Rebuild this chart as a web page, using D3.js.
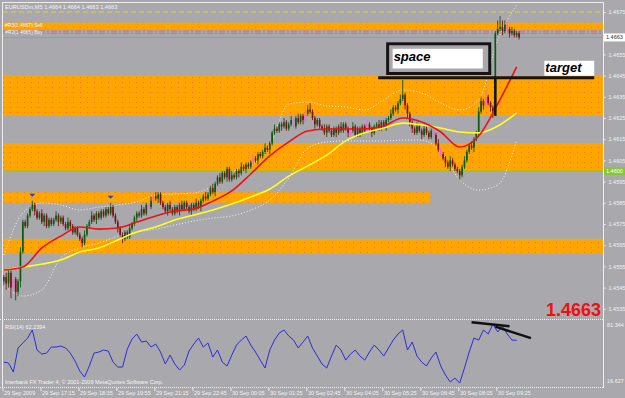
<!DOCTYPE html>
<html>
<head>
<meta charset="utf-8">
<script src="https://cdn.jsdelivr.net/npm/d3@7"></script>
<style>
  html, body { margin: 0; padding: 0; background: #a9a9ad; }
  svg { display: block; font-family: "Liberation Sans", Arial, sans-serif; }
</style>
</head>
<body>
<div class="visHolder"></div>
<script>
var width = 625,
    height = 398;

// EURUSD M5 closes, pips above 1.4500, one per bar
var firstOpen = 48;
var closes = [
  50, 47, 52, 45, 49, 43, 48, 62, 76, 74, 79, 82, 84, 81, 78, 80, 76, 79, 74, 77,
  75, 77, 79, 76, 78, 75, 73, 76, 74, 71, 73, 70, 68, 66, 70, 74, 76, 79, 77, 80,
  78, 81, 79, 82, 80, 83, 79, 76, 73, 70, 68, 71, 69, 73, 75, 78, 80, 79, 82, 80,
  84, 83, 86, 88, 87, 89, 85, 83, 81, 84, 82, 80, 83, 81, 84, 82, 85, 83, 81, 84,
  82, 85, 83, 86, 88, 87, 89, 92, 90, 94, 97, 95, 99, 97, 101, 96, 98, 97, 100, 99,
  102, 101, 103, 102, 104, 106, 105, 108, 107, 109, 111, 110, 113, 118, 120, 119, 122, 121, 123, 120,
  122, 124, 121, 125, 123, 126, 124, 127, 129, 128, 125, 122, 124, 121, 120, 118, 121, 119, 117, 120,
  118, 121, 119, 122, 120, 118, 119, 121, 117, 120, 118, 121, 119, 122, 120, 118, 121, 122, 120, 123,
  121, 124, 125, 127, 130, 129, 132, 134, 136, 131, 127, 123, 120, 118, 121, 119, 117, 120, 118, 116,
  119, 117, 113, 110, 108, 106, 104, 102, 105, 103, 101, 100, 98, 102, 105, 109, 112, 111, 115, 118,
  128, 133, 131, 135, 132, 130, 128, 165, 167, 168, 166, 169, 167, 165, 166, 164, 165, 163
];
// wick length above / below the body, pips
var wickUp = [
  1, 2, 1, 1, 2, 1, 1, 2, 1, 1, 1, 1, 2, 1, 1, 1, 2, 1, 1, 1,
  1, 1, 2, 1, 1, 1, 1, 2, 1, 1, 1, 1, 1, 1, 2, 1, 1, 2, 1, 1,
  1, 1, 1, 1, 1, 2, 1, 1, 1, 1, 1, 1, 1, 2, 1, 1, 1, 1, 2, 1,
  1, 1, 2, 2, 2, 1, 1, 1, 1, 1, 2, 1, 1, 1, 1, 2, 1, 1, 1, 1,
  1, 2, 1, 1, 1, 2, 1, 1, 2, 1, 1, 2, 1, 1, 1, 1, 2, 1, 1, 1,
  2, 1, 1, 1, 1, 2, 1, 1, 1, 1, 2, 1, 1, 1, 2, 1, 1, 1, 2, 1,
  1, 2, 1, 1, 2, 1, 1, 2, 2, 3, 1, 1, 1, 1, 1, 2, 1, 1, 1, 1,
  1, 1, 2, 1, 1, 1, 1, 2, 1, 1, 1, 1, 1, 2, 1, 1, 1, 1, 2, 1,
  1, 1, 1, 2, 1, 1, 1, 2, 7, 1, 1, 1, 1, 1, 2, 1, 1, 2, 1, 1,
  1, 1, 1, 2, 1, 1, 1, 1, 2, 1, 1, 1, 1, 1, 2, 1, 1, 2, 1, 1,
  2, 2, 1, 3, 1, 1, 1, 1, 4, 5, 3, 2, 2, 1, 2, 1, 1, 1
];
var wickDn = [
  2, 3, 2, 5, 1, 4, 2, 3, 1, 1, 1, 1, 1, 2, 1, 1, 1, 2, 1, 1,
  1, 1, 1, 2, 1, 1, 1, 1, 2, 1, 1, 1, 1, 2, 1, 1, 1, 1, 1, 2,
  1, 1, 1, 1, 1, 1, 1, 1, 2, 1, 2, 1, 1, 1, 1, 1, 2, 1, 1, 1,
  1, 1, 1, 1, 1, 2, 1, 1, 1, 2, 1, 1, 1, 1, 2, 1, 1, 1, 1, 2,
  1, 1, 1, 2, 1, 1, 1, 1, 1, 2, 1, 1, 1, 1, 2, 1, 1, 1, 1, 2,
  1, 1, 2, 1, 1, 1, 1, 2, 1, 1, 1, 1, 2, 1, 1, 1, 1, 2, 1, 1,
  1, 1, 2, 1, 1, 1, 2, 1, 1, 1, 1, 2, 1, 1, 1, 1, 2, 1, 1, 1,
  2, 1, 1, 1, 1, 2, 1, 1, 1, 1, 2, 1, 1, 1, 1, 2, 1, 1, 1, 1,
  1, 2, 1, 1, 1, 1, 2, 1, 1, 2, 2, 2, 2, 1, 1, 1, 2, 1, 1, 1,
  1, 2, 1, 1, 1, 1, 2, 1, 2, 1, 1, 1, 2, 1, 1, 1, 1, 1, 2, 1,
  1, 1, 2, 1, 1, 2, 3, 1, 1, 1, 2, 1, 1, 2, 1, 1, 1, 1
];
var pinkBars = [4, 61, 63, 105, 122, 127, 146, 153, 181, 184, 203, 212];
var fractalBars = [12, 45];

// indicator lines, pips above 1.4500, one sample every 8 bars
var maStep = 8;
var redMA = [53.3, 54.7, 63.7, 69.3, 73.6, 72.6, 73.1, 75.9, 78.8, 81.1, 82.1, 85.8, 90.6, 98.6,
  107.1, 113.7, 118.9, 119.8, 119.8, 119.8, 121.2, 125.0, 123.1, 118.4, 111.3, 116.5, 131.6, 149.1];
var yellowMA = [53.3, 54.7, 56.1, 58.0, 61.8, 63.7, 67.5, 71.2, 73.6, 76.9, 79.2, 81.6, 84.4, 87.7,
  91.5, 97.6, 102.4, 107.5, 114.2, 118.0, 120.3, 122.6, 121.7, 120.3, 118.4, 118.0, 121.2, 127.4];
var bbUpper = [60.4, 80.2, 84.9, 84.0, 81.6, 83.0, 84.0, 85.4, 88.7, 89.2, 89.6, 92.9, 99.5, 102.4,
  112.3, 131.6, 132.5, 130.7, 130.2, 128.8, 133.5, 138.2, 136.8, 132.1, 128.8, 133.5, 161.8, 178.3];
var bbLower = [46.2, 41.0, 43.9, 59.0, 63.7, 66.0, 69.3, 71.2, 72.6, 74.5, 76.4, 77.8, 78.8, 81.6,
  86.3, 96.7, 110.8, 113.7, 114.2, 114.2, 114.2, 114.6, 114.6, 109.0, 95.8, 91.0, 93.4, 114.6];

// RSI(14), one sample every 2 bars
var rsiStep = 2;
var rsi = [
  39.5, 38.5, 29.1, 54.2, 59.4, 64.6, 73.0, 52.1, 47.9, 48.9, 55.2, 55.2, 56.2, 54.2, 48.9,
  40.6, 30.1, 23.9, 35.4, 48.9, 50.0, 52.1, 51.0, 39.5, 34.3, 34.3, 53.1, 63.5, 68.8, 60.4,
  61.5, 55.2, 58.3, 50.0, 37.5, 46.8, 37.5, 31.2, 36.4, 51.0, 58.3, 64.6, 55.2, 59.4, 44.8,
  52.1, 39.5, 35.4, 46.8, 57.3, 62.5, 66.7, 57.3, 50.0, 41.6, 33.3, 52.1, 62.5, 69.8, 73.0,
  66.7, 62.5, 54.2, 60.4, 66.7, 54.2, 45.8, 37.5, 33.3, 45.8, 57.3, 52.1, 41.6, 47.9, 52.1,
  45.8, 41.6, 50.0, 57.3, 52.1, 45.8, 54.2, 62.5, 68.8, 73.0, 52.1, 60.4, 45.8, 39.5, 35.4,
  43.7, 50.0, 35.4, 26.0, 18.7, 22.8, 17.6, 33.3, 50.0, 64.6, 62.5, 73.0, 68.8, 79.2, 70.9,
  77.1, 68.8, 62.5, 62.2394
];
var rsiMin = 16.627,
    rsiMax = 81.344;

var timeLabels = ['29 Sep 2009', '29 Sep 17:15', '29 Sep 18:35', '29 Sep 19:55', '29 Sep 21:15',
  '29 Sep 22:45', '30 Sep 00:05', '30 Sep 01:25', '30 Sep 02:45', '30 Sep 04:05', '30 Sep 05:25',
  '30 Sep 06:45', '30 Sep 08:05', '30 Sep 09:25'];
var labelEvery = 16;
var priceTicks = [1.4535, 1.4545, 1.4555, 1.4565, 1.4575, 1.4585, 1.4595, 1.4605, 1.4615,
  1.4625, 1.4635, 1.4645, 1.4655, 1.4675];

// orange support / resistance zones
var zoneLow = [1.4667, 1.4626, 1.4600, 1.4585, 1.4561];
var zoneHigh = [1.4670, 1.4645, 1.4613, 1.4590, 1.4568];
var zoneEnd = [252, 252, 252, 179, 252];

var bidPrice = 1.4663,
    roundLevel = 1.4600,
    topLevel = 1.4675,
    pivotLevels = [1.4666, 1.4665];
var targetPrice = 1.4644,
    targetFrom = 158,
    targetTo = 249,
    breakBar = 207,
    breakLow = 1.4626;
var spaceBox = [162, 205, 1.4646, 1.4660];
var targetBox = [228, 249, 1.4644, 1.4652];
var rsiTrend = [[197, 81.0, 213, 77.0], [207, 76.5, 222, 64.5]];

var slots = d3.range(253);
var x = d3.scaleBand().domain(slots).range([3, 603]).paddingInner(0.3);
var xc = function (i) { return x(i) + x.bandwidth() / 2; };
var y = d3.scaleLinear().domain([1.4535, 1.4675]).range([308.8, 12]);
var yr = d3.scaleLinear().domain([rsiMin, rsiMax]).range([384, 322]);
var pip = function (v) { return 1.45 + v / 10000; };

var svg = d3.select('.visHolder')
    .append('svg')
    .attr('width', width)
    .attr('height', height);

var defs = svg.append('defs');
var pat = defs.append('pattern')
    .attr('id', 'dots')
    .attr('width', 7)
    .attr('height', 5)
    .attr('patternUnits', 'userSpaceOnUse');
pat.append('rect').attr('width', 7).attr('height', 5).attr('fill', '#ffa500');
pat.append('rect').attr('x', 3).attr('y', 2).attr('width', 1).attr('height', 1).attr('fill', '#f0704a');

svg.append('rect')
    .attr('width', width)
    .attr('height', height)
    .attr('fill', '#a9a9ad');

// Zones
svg.append('g')
    .selectAll('rect')
    .data(zoneLow)
    .enter()
    .append('rect')
    .attr('x', 3)
    .attr('y', (d, i) => y(zoneHigh[i]))
    .attr('width', (d, i) => x(zoneEnd[i]) + x.step() - 3)
    .attr('height', (d, i) => y(d) - y(zoneHigh[i]))
    .attr('fill', 'url(#dots)');

// Horizontal levels
svg.append('line')
    .attr('x1', 3).attr('x2', 603)
    .attr('y1', y(topLevel)).attr('y2', y(topLevel))
    .attr('stroke', '#e6d21e')
    .attr('stroke-dasharray', '5,3');
svg.append('g')
    .selectAll('line')
    .data(pivotLevels)
    .enter()
    .append('line')
    .attr('x1', 3).attr('x2', 603)
    .attr('y1', d => y(d)).attr('y2', d => y(d))
    .attr('stroke', '#cf6d78')
    .attr('stroke-dasharray', '6,2,2,2');
svg.append('line')
    .attr('x1', 3).attr('x2', 603)
    .attr('y1', y(bidPrice)).attr('y2', y(bidPrice))
    .attr('stroke', '#8d9db4');
svg.append('line')
    .attr('x1', 3).attr('x2', 603)
    .attr('y1', y(roundLevel)).attr('y2', y(roundLevel))
    .attr('stroke', '#86c63a');

// Bollinger bands and MAs
var sampleLine = function (step) {
    return d3.line()
        .x((d, i) => xc(i * step))
        .y(d => y(pip(d)))
        .curve(d3.curveMonotoneX);
};
[bbUpper, bbLower].forEach(function (arr) {
    svg.append('path')
        .attr('d', sampleLine(maStep)(arr))
        .attr('fill', 'none')
        .attr('stroke', '#f4f4f4')
        .attr('stroke-width', 1)
        .attr('stroke-dasharray', '1,2');
});

// Candles
var bars = closes.map(function (c, i) {
    var o = i === 0 ? firstOpen : closes[i - 1];
    return { i: i, o: o, c: c, h: Math.max(o, c) + wickUp[i], l: Math.min(o, c) - wickDn[i] };
});
var barColor = function (d) {
    if (pinkBars.indexOf(d.i) >= 0) return '#ff5cf0';
    return d.c >= d.o ? '#0c5a12' : '#7a1414';
};
var candles = svg.append('g').selectAll('g').data(bars).enter().append('g');
candles.append('line')
    .attr('x1', d => xc(d.i)).attr('x2', d => xc(d.i))
    .attr('y1', d => y(pip(d.h))).attr('y2', d => y(pip(d.l)))
    .attr('stroke', barColor)
    .attr('stroke-width', 0.9);
candles.append('rect')
    .attr('x', d => x(d.i))
    .attr('y', d => y(pip(Math.max(d.o, d.c))))
    .attr('width', x.bandwidth())
    .attr('height', d => Math.max(1, Math.abs(y(pip(d.o)) - y(pip(d.c)))))
    .attr('fill', barColor);

svg.append('path')
    .attr('d', sampleLine(maStep)(yellowMA))
    .attr('fill', 'none')
    .attr('stroke', '#ffff1e')
    .attr('stroke-width', 1.6);
svg.append('path')
    .attr('d', sampleLine(maStep)(redMA))
    .attr('fill', 'none')
    .attr('stroke', '#f01010')
    .attr('stroke-width', 1.6);

// Fractal arrows
svg.append('g')
    .selectAll('path')
    .data(fractalBars)
    .enter()
    .append('path')
    .attr('d', function (i) {
        var cx = xc(i), cy = y(pip(bars[i].h)) - 4;
        return 'M' + (cx - 3) + ',' + (cy - 3) + 'L' + (cx + 3) + ',' + (cy - 3) + 'L' + cx + ',' + cy + 'Z';
    })
    .attr('fill', '#2b3fd0');

// Space box
svg.append('rect')
    .attr('x', x(spaceBox[0]))
    .attr('y', y(spaceBox[3]))
    .attr('width', x(spaceBox[1]) - x(spaceBox[0]))
    .attr('height', y(spaceBox[2]) - y(spaceBox[3]))
    .attr('fill', 'none')
    .attr('stroke', '#141414')
    .attr('stroke-width', 3);
svg.append('rect')
    .attr('x', x(spaceBox[0]) + 5)
    .attr('y', y(spaceBox[3]) + 5)
    .attr('width', x(spaceBox[1]) - x(spaceBox[0]) - 12)
    .attr('height', y(spaceBox[2]) - y(spaceBox[3]) - 10)
    .attr('fill', '#ffffff');
svg.append('text')
    .attr('x', x(spaceBox[0]) + 6)
    .attr('y', y(spaceBox[3]) + 17)
    .style('font-size', '13px')
    .style('font-weight', 'bold')
    .style('font-style', 'italic')
    .attr('fill', '#000')
    .text('space');

// Target
svg.append('rect')
    .attr('x', x(targetBox[0]))
    .attr('y', y(targetBox[3]))
    .attr('width', x(targetBox[1]) - x(targetBox[0]))
    .attr('height', y(targetBox[2]) - y(targetBox[3]) - 2)
    .attr('fill', '#ffffff');
svg.append('text')
    .attr('x', x(targetBox[0]) + 1)
    .attr('y', y(targetBox[2]) - 6)
    .style('font-size', '13px')
    .style('font-weight', 'bold')
    .style('font-style', 'italic')
    .attr('fill', '#000')
    .text('target');
svg.append('line')
    .attr('x1', x(targetFrom)).attr('x2', x(targetTo))
    .attr('y1', y(targetPrice)).attr('y2', y(targetPrice))
    .attr('stroke', '#141414')
    .attr('stroke-width', 3);
svg.append('line')
    .attr('x1', xc(breakBar)).attr('x2', xc(breakBar))
    .attr('y1', y(targetPrice)).attr('y2', y(breakLow))
    .attr('stroke', '#141414')
    .attr('stroke-width', 2.5);

// Top left info
svg.append('text')
    .attr('x', 5).attr('y', 9)
    .attr('fill', '#f4f4f4')
    .style('font-size', '5.6px')
    .text('EURUSDm,M5  1.4664 1.4664 1.4663 1.4663');
svg.append('text')
    .attr('x', 5).attr('y', y(1.4668))
    .attr('fill', '#f4f4f4')
    .style('font-size', '5px')
    .text('#R3(1.4667) Sell');
svg.append('text')
    .attr('x', 5).attr('y', y(1.4665) + 1)
    .attr('fill', '#f4f4f4')
    .style('font-size', '5px')
    .text('#R2(1.4665) Buy');

// Big price
svg.append('text')
    .attr('x', 601).attr('y', 316)
    .attr('text-anchor', 'end')
    .attr('fill', '#f01010')
    .style('font-size', '18px')
    .style('font-weight', 'bold')
    .text(bidPrice.toFixed(4));

// RSI panel
svg.append('line')
    .attr('x1', 0).attr('x2', 603).attr('y1', 319.5).attr('y2', 319.5)
    .attr('stroke', '#f0f0f0').attr('stroke-dasharray', '1,1');
svg.append('line')
    .attr('x1', 0).attr('x2', 603).attr('y1', 387.5).attr('y2', 387.5)
    .attr('stroke', '#f0f0f0').attr('stroke-dasharray', '1,1');
svg.append('path')
    .attr('d', d3.line().x((d, i) => xc(i * rsiStep)).y(d => yr(d))(rsi))
    .attr('fill', 'none')
    .attr('stroke', '#2d2dd2')
    .attr('stroke-width', 1);
svg.append('g')
    .selectAll('line')
    .data(rsiTrend)
    .enter()
    .append('line')
    .attr('x1', d => xc(d[0])).attr('y1', d => yr(d[1]))
    .attr('x2', d => xc(d[2])).attr('y2', d => yr(d[3]))
    .attr('stroke', '#111')
    .attr('stroke-width', 2.5);
svg.append('text')
    .attr('x', 5).attr('y', 329)
    .attr('fill', '#f4f4f4')
    .style('font-size', '5.5px')
    .text('RSI(14) ' + rsi[rsi.length - 1].toFixed(4));
svg.append('text')
    .attr('x', 5).attr('y', 384)
    .attr('fill', '#f4f4f4')
    .style('font-size', '5.5px')
    .text('Interbank FX Trader 4, © 2001-2009 MetaQuotes Software Corp.');

// Frame and right axis
svg.append('line')
    .attr('x1', 2.5).attr('x2', 2.5).attr('y1', 2).attr('y2', 388)
    .attr('stroke', '#eeeeee');
svg.append('line')
    .attr('x1', 2).attr('x2', 603).attr('y1', 2.5).attr('y2', 2.5)
    .attr('stroke', '#eeeeee');
svg.append('line')
    .attr('x1', 603.5).attr('x2', 603.5).attr('y1', 2).attr('y2', 388)
    .attr('stroke', '#eeeeee');

var yAxis = d3.axisRight(y)
    .tickValues(priceTicks)
    .tickSize(2)
    .tickFormat(d3.format('.4f'));
var ga = svg.append('g')
    .attr('transform', 'translate(603.5,0)')
    .call(yAxis);
ga.select('.domain').remove();
ga.selectAll('line').attr('stroke', '#eeeeee');
ga.selectAll('text')
    .attr('fill', '#f2f2f2')
    .style('font-size', '5.5px')
    .style('font-family', '"Liberation Sans", Arial, sans-serif');

// price tags on the axis
[[bidPrice, '#ffffff', '#333333'], [roundLevel, '#86c63a', '#ffffff']].forEach(function (t) {
    svg.append('rect')
        .attr('x', 604).attr('y', y(t[0]) - 4)
        .attr('width', 21).attr('height', 8)
        .attr('fill', t[1]);
    svg.append('text')
        .attr('x', 606).attr('y', y(t[0]) + 2)
        .attr('fill', t[2])
        .style('font-size', '5.5px')
        .text(t[0].toFixed(4));
});

svg.append('text')
    .attr('x', 607).attr('y', 327)
    .attr('fill', '#f2f2f2').style('font-size', '5.5px')
    .text(rsiMax.toFixed(3));
svg.append('text')
    .attr('x', 607).attr('y', 383)
    .attr('fill', '#f2f2f2').style('font-size', '5.5px')
    .text(rsiMin.toFixed(3));

// Time labels
var gt = svg.append('g');
timeLabels.forEach(function (label, k) {
    var px = x(k * labelEvery);
    gt.append('line')
        .attr('x1', px).attr('x2', px).attr('y1', 388).attr('y2', 391)
        .attr('stroke', '#eeeeee');
    gt.append('text')
        .attr('x', px + 1).attr('y', 395)
        .attr('fill', '#f2f2f2')
        .style('font-size', '5.5px')
        .text(label);
});
</script>
</body>
</html>
